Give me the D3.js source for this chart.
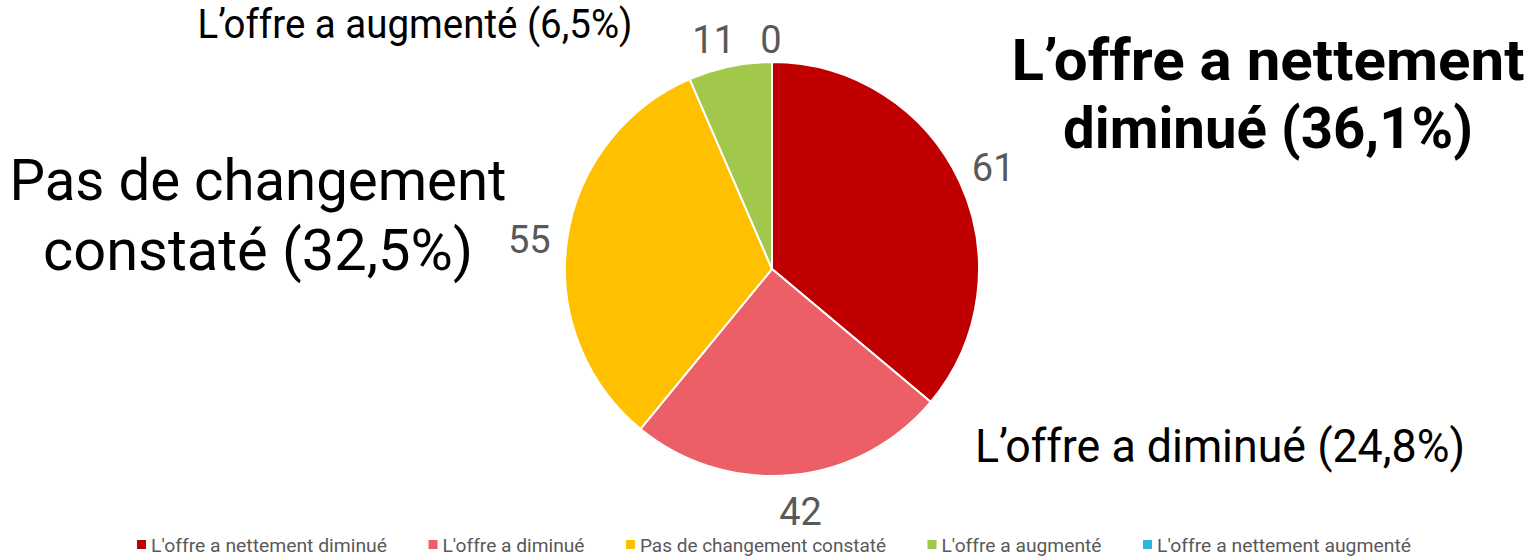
<!DOCTYPE html>
<html>
<head>
<meta charset="utf-8">
<script src="https://cdn.jsdelivr.net/npm/d3@7"></script>
<style>
  body { margin: 0; background: #fff; }
  svg { display: block; }
  text { font-family: Roboto, "Noto Sans", sans-serif; }
</style>
</head>
<body>
<div id="chart"></div>
<script>
// chart data
const categories = ["L'offre a nettement diminué", "L'offre a diminué", "Pas de changement constaté", "L'offre a augmenté", "L'offre a nettement augmenté"];
const counts = [61, 42, 55, 11, 0];
const percentLabels = ["36,1%", "24,8%", "32,5%", "6,5%", "0%"];
const calloutLines = [
    ["L’offre a nettement", "diminué (36,1%)"],
    ["L’offre a diminué (24,8%)"],
    ["Pas de changement", "constaté (32,5%)"],
    ["L’offre a augmenté (6,5%)"]
];
const colors = ["#C00000", "#EC5F67", "#FFC000", "#A2C84B", "#2FB6E0"];

const width = 1540, height = 560;
const cx = 772, cy = 269, radius = 207;

const svg = d3.select("#chart").append("svg")
    .attr("width", width)
    .attr("height", height);

// pie slices, clockwise from 12 o'clock
const pie = d3.pie().sort(null).value(d => d.value);
const slices = pie(counts.map((v, i) => ({ value: v, i: i })));

const arc = d3.arc().innerRadius(0).outerRadius(radius);
const labelArc = d3.arc().innerRadius(243).outerRadius(243);

const g = svg.append("g").attr("transform", `translate(${cx},${cy})`);

g.selectAll("path")
    .data(slices.filter(d => d.value > 0))
    .enter()
    .append("path")
    .attr("d", arc)
    .attr("fill", d => colors[d.data.i])
    .attr("stroke", "#fff")
    .attr("stroke-width", 2);

// value labels (Excel nudged a few of them)
const nudge = [[1, 2], [6, 1], [-2, 5], [-9, 9], [-1, 14]];
g.selectAll("text.value")
    .data(slices)
    .enter()
    .append("text")
    .attr("class", "value")
    .attr("x", d => labelArc.centroid(d)[0] + nudge[d.data.i][0])
    .attr("y", d => labelArc.centroid(d)[1] + nudge[d.data.i][1])
    .attr("text-anchor", "middle")
    .attr("dominant-baseline", "central")
    .attr("font-size", 38)
    .attr("fill", "#595959")
    .text(d => d.value);

// big category callouts
const callouts = [
    { x: 1268, y: [80, 148], size: 58, weight: "bold", w: [513, 410] },
    { x: 1220, y: [462], size: 46, weight: "normal", w: [490] },
    { x: 258, y: [200, 270], size: 57, weight: "normal", w: [497, 430] },
    { x: 415, y: [38], size: 40, weight: "normal", w: [435] }
];
callouts.forEach((c, i) => {
    calloutLines[i].forEach((line, j) => {
        svg.append("text")
            .attr("x", c.x)
            .attr("y", c.y[j])
            .attr("text-anchor", "middle")
            .attr("font-size", c.size)
            .attr("font-weight", c.weight)
            .attr("fill", "#000")
            .attr("textLength", c.w[j])
            .attr("lengthAdjust", "spacingAndGlyphs")
            .text(line);
    });
});

// legend
const legendWidths = [236, 142, 246, 160, 254];
let lx = 137;
const legend = svg.append("g");
categories.forEach((name, i) => {
    legend.append("rect")
        .attr("x", lx)
        .attr("y", 540)
        .attr("width", 9)
        .attr("height", 9)
        .attr("fill", colors[i]);
    legend.append("text")
        .attr("x", lx + 14)
        .attr("y", 545)
        .attr("dominant-baseline", "central")
        .attr("font-size", 19)
        .attr("fill", "#595959")
        .attr("textLength", legendWidths[i])
        .attr("lengthAdjust", "spacingAndGlyphs")
        .text(name);
    lx += 14 + legendWidths[i] + 41.5;
});
</script>
</body>
</html>
